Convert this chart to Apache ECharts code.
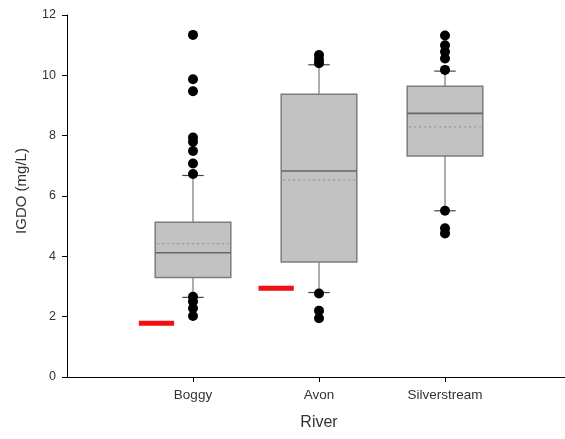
<!DOCTYPE html>
<html>
<head>
<meta charset="utf-8">
<title>IGDO by River</title>
<script src="https://cdn.jsdelivr.net/npm/echarts@6/dist/echarts.min.js"></script>
<style>
  html, body { margin: 0; padding: 0; background: #fff; }
  #chart { width: 565px; height: 439px; }
</style>
</head>
<body>
<div id="chart"></div>
<script>
// Rivers and their positions along the x axis
const rivers = ['Boggy', 'Avon', 'Silverstream'];
const riverPos = [1, 2, 3];

// Box statistics (mg/L)
const q1 = [3.30, 3.81, 7.33];
const median = [4.12, 6.83, 8.74];
const q3 = [5.13, 9.37, 9.64];
const mean = [4.42, 6.53, 8.29];
const whiskerLow = [2.64, 2.80, 5.51];
const whiskerHigh = [6.68, 10.35, 10.14];

// Outlying observations per river
const outliersBoggy = [11.34, 9.87, 9.47, 7.94, 7.80, 7.49, 7.08, 6.73, 2.66, 2.50, 2.28, 2.02];
const outliersAvon = [10.67, 10.52, 10.40, 2.77, 2.20, 1.95];
const outliersSilverstream = [11.32, 11.00, 10.78, 10.56, 10.18, 5.51, 4.93, 4.76];

// Reference levels (red bars) for Boggy and Avon
const refLevel = [1.78, 2.94];
const refFrom = [0.57, 1.52];
const refTo = [0.85, 1.80];

const yTicks = [0, 2, 4, 6, 8, 10, 12];

const BOX_W = 0.6;   // box width in x units
const CAP_W = 0.17;  // whisker cap width in x units
const FONT = '"Liberation Sans", Arial, sans-serif';

const boxData = rivers.map((r, i) => [riverPos[i], q1[i], median[i], q3[i], mean[i], whiskerLow[i], whiskerHigh[i]]);
const outlierGroups = [outliersBoggy, outliersAvon, outliersSilverstream];
const outlierData = [];
outlierGroups.forEach((g, i) => g.forEach(v => outlierData.push([riverPos[i], v])));
const refData = refLevel.map((v, i) => [refFrom[i], refTo[i], v]);

function renderBox(params, api) {
  const x = api.value(0);
  const pQ1 = api.coord([x, api.value(1)]);
  const pMed = api.coord([x, api.value(2)]);
  const pQ3 = api.coord([x, api.value(3)]);
  const pMean = api.coord([x, api.value(4)]);
  const pLo = api.coord([x, api.value(5)]);
  const pHi = api.coord([x, api.value(6)]);
  const hw = api.size([BOX_W, 0])[0] / 2;
  const cw = api.size([CAP_W, 0])[0] / 2;
  const cx = pQ1[0];
  const whisker = { stroke: '#777', lineWidth: 1.2 };
  const cap = { stroke: '#444', lineWidth: 1.2 };
  return {
    type: 'group',
    children: [
      { type: 'line', shape: { x1: cx, y1: pLo[1], x2: cx, y2: pQ1[1] }, style: whisker },
      { type: 'line', shape: { x1: cx, y1: pQ3[1], x2: cx, y2: pHi[1] }, style: whisker },
      { type: 'line', shape: { x1: cx - cw, y1: pLo[1], x2: cx + cw, y2: pLo[1] }, style: cap },
      { type: 'line', shape: { x1: cx - cw, y1: pHi[1], x2: cx + cw, y2: pHi[1] }, style: cap },
      { type: 'rect', shape: { x: cx - hw, y: pQ3[1], width: hw * 2, height: pQ1[1] - pQ3[1] },
        style: { fill: '#c2c2c2', stroke: '#7c7c7c', lineWidth: 1.5 } },
      { type: 'line', shape: { x1: cx - hw, y1: pMed[1], x2: cx + hw, y2: pMed[1] },
        style: { stroke: '#666', lineWidth: 1.6 } },
      { type: 'line', shape: { x1: cx - hw + 2, y1: pMean[1], x2: cx + hw - 2, y2: pMean[1] },
        style: { stroke: '#8a8a8a', lineWidth: 1, lineDash: [2, 3] } }
    ]
  };
}

function renderRef(params, api) {
  const a = api.coord([api.value(0), api.value(2)]);
  const b = api.coord([api.value(1), api.value(2)]);
  return {
    type: 'line',
    shape: { x1: a[0], y1: a[1], x2: b[0], y2: b[1] },
    style: { stroke: '#f01010', lineWidth: 5 }
  };
}

const chart = echarts.init(document.getElementById('chart'), null, { renderer: 'canvas' });
chart.setOption({
  animation: false,
  backgroundColor: '#fff',
  grid: { left: 67, top: 15, right: -6, bottom: 62, containLabel: false, outerBoundsMode: 'none' },
  xAxis: {
    type: 'value',
    min: 0, max: 4,
    name: 'River',
    nameLocation: 'middle',
    nameGap: 38,
    nameTextStyle: { fontFamily: FONT, fontSize: 16, color: '#333' },
    splitLine: { show: false },
    axisLine: { show: true, lineStyle: { color: '#000', width: 1 } },
    axisTick: { show: true, length: 5, customValues: riverPos, lineStyle: { color: '#000' } },
    axisLabel: {
      customValues: riverPos,
      margin: 11,
      fontFamily: FONT, fontSize: 13.5, color: '#333',
      formatter: v => rivers[riverPos.indexOf(Math.round(v))] || ''
    }
  },
  yAxis: {
    type: 'value',
    min: 0, max: 12, interval: 2,
    name: 'IGDO (mg/L)',
    nameLocation: 'middle',
    nameGap: 38,
    nameRotate: 90,
    nameTextStyle: { fontFamily: FONT, fontSize: 15, color: '#333', padding: [0, 0, 0, 10] },
    splitLine: { show: false },
    axisLine: { show: true, lineStyle: { color: '#000', width: 1 } },
    axisTick: { show: true, length: 5, lineStyle: { color: '#000' } },
    axisLabel: {
      margin: 11,
      fontFamily: FONT, fontSize: 12.5, color: '#333',
      formatter: v => (yTicks.indexOf(v) >= 0 ? String(v) : '')
    }
  },
  series: [
    {
      type: 'custom',
      name: 'box',
      renderItem: renderBox,
      data: boxData,
      encode: { x: 0, y: [1, 2, 3, 4, 5, 6] },
      z: 2,
      silent: true
    },
    {
      type: 'scatter',
      name: 'outliers',
      data: outlierData,
      symbol: 'circle',
      symbolSize: 10,
      itemStyle: { color: '#000', opacity: 1 },
      z: 4,
      silent: true
    },
    {
      type: 'custom',
      name: 'reference',
      renderItem: renderRef,
      data: refData,
      encode: { x: [0, 1], y: 2 },
      z: 3,
      silent: true
    }
  ]
});
</script>
</body>
</html>
